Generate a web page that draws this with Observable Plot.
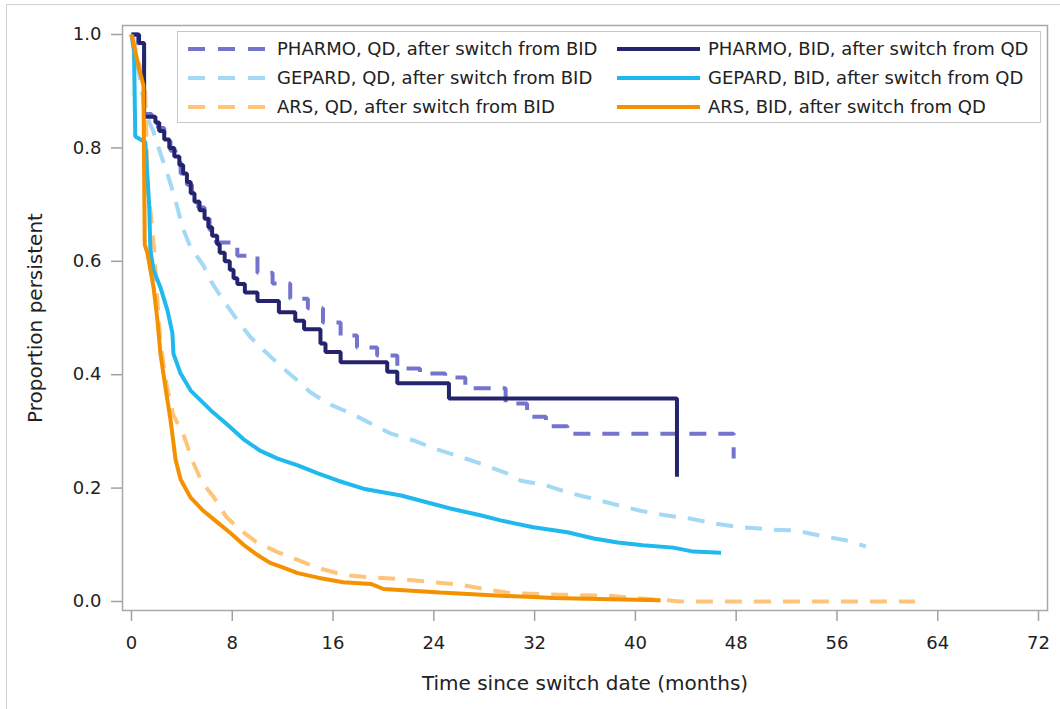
<!DOCTYPE html>
<html>
<head>
<meta charset="utf-8">
<script src="https://cdn.jsdelivr.net/npm/d3@7"></script>
<script src="https://cdn.jsdelivr.net/npm/@observablehq/plot@0.6"></script>
<style>
  html, body { margin: 0; padding: 0; background: #fff; }
  #wrap { position: relative; width: 1060px; height: 709px; overflow: hidden; font-family: "DejaVu Sans", sans-serif; }
  #border { position: absolute; left: 6px; top: 4px; width: 1200px; height: 900px;
            border-left: 1.5px solid #d2d2d2; border-top: 1.5px solid #d2d2d2; }
  #chart { position: absolute; left: 0; top: 0; }
  #legend { position: absolute; left: 177px; top: 31px; width: 864px; height: 92px;
            box-sizing: border-box; border: 1.5px solid #c8c8c8; background: #fff; }
  .item { position: absolute; height: 29px; display: flex; align-items: center; }
  .item svg { display: block; }
  .item span { font-size: 18px; color: #222; white-space: nowrap; }
</style>
</head>
<body>
<div id="wrap">
  <div id="border"></div>
  <div id="chart"></div>
  <div id="legend"></div>
</div>
<script>
// ---- Data (time in months, proportion persistent) ----
const xTicks = [0, 8, 16, 24, 32, 40, 48, 56, 64, 72];
const yTicks = [0, 0.2, 0.4, 0.6, 0.8, 1.0];
const xLabel = "Time since switch date (months)";
const yLabel = "Proportion persistent";

const seriesNames = [
  "PHARMO, QD, after switch from BID",
  "GEPARD, QD, after switch from BID",
  "ARS, QD, after switch from BID",
  "PHARMO, BID, after switch from QD",
  "GEPARD, BID, after switch from QD",
  "ARS, BID, after switch from QD"
];

// PHARMO series: few events, drawn as Kaplan-Meier steps
const pharmoQD = [[0,1.0],[0.5,0.98],[1.0,0.86],[1.6,0.85],[2.1,0.835],[2.6,0.815],[3.1,0.795],[3.5,0.775],[3.9,0.755],[4.4,0.735],[4.8,0.715],[5.3,0.695],[5.8,0.675],[6.2,0.655],[6.7,0.633],[8.4,0.61],[10.0,0.58],[11.2,0.561],[12.6,0.534],[14.0,0.517],[15.2,0.492],[16.6,0.469],[17.9,0.448],[19.5,0.434],[21.1,0.411],[22.9,0.402],[24.9,0.395],[26.5,0.376],[29.7,0.349],[31.4,0.326],[32.9,0.309],[34.6,0.296],[47.8,0.252]];

const pharmoBID = [[0,1.0],[0.6,0.985],[1.0,0.855],[1.9,0.845],[2.2,0.83],[2.6,0.815],[3.0,0.80],[3.4,0.785],[3.8,0.77],[4.1,0.755],[4.4,0.74],[4.7,0.72],[5.0,0.705],[5.4,0.69],[5.8,0.675],[6.1,0.66],[6.4,0.645],[6.8,0.63],[7.0,0.615],[7.4,0.60],[7.8,0.585],[8.1,0.57],[8.4,0.56],[9.0,0.545],[10.0,0.53],[11.7,0.51],[13.0,0.495],[13.7,0.48],[15.0,0.455],[15.4,0.44],[16.6,0.422],[20.3,0.405],[21.1,0.385],[25.2,0.358],[43.3,0.22]];

// GEPARD / ARS series: many events, read as dense curves
const gepardQD = [[0,1.0],[0.3,0.97],[0.6,0.93],[0.9,0.89],[1.0,0.866],[1.7,0.831],[2.3,0.79],[2.9,0.751],[3.5,0.707],[4.05,0.66],[4.7,0.624],[5.7,0.593],[6.3,0.565],[7.3,0.531],[8.4,0.496],[9.45,0.466],[10.5,0.443],[11.8,0.416],[12.9,0.395],[14.2,0.369],[15.6,0.349],[17.4,0.332],[19.0,0.314],[20.6,0.296],[22.4,0.284],[24.0,0.27],[26.0,0.256],[28.0,0.241],[29.8,0.226],[30.9,0.213],[32.9,0.205],[34.7,0.192],[36.5,0.182],[38.4,0.171],[40.4,0.16],[42.4,0.152],[44.4,0.146],[46.2,0.138],[48.3,0.131],[50.7,0.127],[52.8,0.125],[54.7,0.116],[56.7,0.108],[58.3,0.097]];

const gepardBID = [[0,1.0],[0.2,0.97],[0.3,0.82],[1.1,0.81],[1.4,0.70],[1.5,0.62],[1.75,0.584],[2.3,0.554],[2.86,0.513],[3.25,0.473],[3.33,0.437],[3.9,0.402],[4.7,0.372],[6.3,0.337],[7.6,0.312],[8.9,0.286],[10.2,0.266],[11.6,0.252],[13.2,0.24],[14.8,0.226],[16.4,0.213],[18.4,0.199],[21.4,0.187],[25.3,0.164],[27.7,0.152],[29.3,0.143],[31.9,0.131],[34.6,0.122],[36.7,0.111],[38.6,0.104],[40.6,0.099],[43.0,0.095],[44.6,0.088],[46.8,0.086]];

const arsQD = [[0,1.0],[0.4,0.97],[0.8,0.93],[1.1,0.9],[1.3,0.72],[1.5,0.69],[1.8,0.62],[2.0,0.55],[2.3,0.455],[2.8,0.38],[3.3,0.33],[4.2,0.29],[4.8,0.25],[5.6,0.21],[6.5,0.185],[7.5,0.15],[8.6,0.127],[9.9,0.105],[11.5,0.088],[13.0,0.075],[14.7,0.06],[16.8,0.047],[18.7,0.043],[21.0,0.04],[23.5,0.035],[26.0,0.03],[28.0,0.022],[30.0,0.015],[34.0,0.012],[38.0,0.01],[40.0,0.006],[42.0,0.003],[43.5,0.0],[62.2,0.0]];

const arsBID = [[0,1.0],[0.3,0.97],[0.6,0.94],[0.95,0.91],[1.05,0.63],[1.27,0.614],[1.75,0.554],[2.06,0.496],[2.3,0.437],[2.7,0.377],[3.1,0.32],[3.5,0.25],[3.9,0.215],[4.7,0.183],[5.7,0.16],[6.8,0.14],[7.9,0.12],[8.9,0.1],[10.0,0.082],[11.0,0.068],[12.0,0.06],[13.2,0.05],[14.8,0.042],[16.8,0.034],[19.0,0.031],[20.0,0.022],[24.5,0.016],[29.3,0.01],[31.9,0.008],[33.5,0.006],[38.0,0.004],[42.0,0.002]];

const seriesData = [pharmoQD, gepardQD, arsQD, pharmoBID, gepardBID, arsBID];

// ---- Styles ----
const colors = ["#7474cf", "#a3d9f5", "#fec57a", "#24246e", "#1fb9ee", "#f39100"];
const dashes = ["17,12", "17,12", "17,12", null, null, null];
const curves = ["step-after", "linear", "linear", "step-after", "linear", "linear"];
const lineW = 4;

const lineMarks = seriesData.map((data, i) =>
  Plot.line(data, {
    x: d => d[0], y: d => d[1], curve: curves[i],
    stroke: colors[i], strokeWidth: lineW,
    strokeDasharray: dashes[i] || undefined,
    strokeLinejoin: "miter", strokeLinecap: "butt"
  })
);

const chart = Plot.plot({
  width: 1060, height: 709,
  marginLeft: 122, marginRight: 13, marginTop: 25, marginBottom: 99,
  x: { domain: [-0.714, 72.714] },
  y: { domain: [-0.0159, 1.0159] },
  style: { fontFamily: "DejaVu Sans, sans-serif", background: "transparent", overflow: "visible" },
  marks: [
    ...lineMarks,
    Plot.frame({ stroke: "#a8a8a8", strokeWidth: 1.5 }),
    Plot.axisX({ ticks: xTicks, tickSize: 11, tickPadding: 15, stroke: "#a0a0a0", strokeWidth: 1.5, fill: "#222", fontSize: 18, label: null }),
    Plot.axisY({ ticks: yTicks, tickSize: 11, tickPadding: 10, tickFormat: d3.format(".1f"), stroke: "#a0a0a0", strokeWidth: 1.5, fill: "#222", fontSize: 18, label: null }),
    Plot.text([xLabel], { text: d => d, frameAnchor: "bottom", dy: 73, fontSize: 20, fill: "#222", lineAnchor: "middle", textAnchor: "middle" }),
    Plot.text([yLabel], { text: d => d, frameAnchor: "left", dx: -87, rotate: -90, fontSize: 20, fill: "#222", lineAnchor: "middle", textAnchor: "middle" })
  ]
});
document.getElementById("chart").appendChild(chart);

// ---- Legend ----
const legend = document.getElementById("legend");
const colLayout = [
  { swatchLeft: 10, swatchW: 77, textGap: 12 },
  { swatchLeft: 439, swatchW: 83, textGap: 8 }
];
seriesNames.forEach((name, i) => {
  const col = i < 3 ? 0 : 1, row = i % 3;
  const L = colLayout[col];
  const item = document.createElement("div");
  item.className = "item";
  item.style.left = L.swatchLeft + "px";
  item.style.top = (2 + row * 29) + "px";
  const ns = "http://www.w3.org/2000/svg";
  const svg = document.createElementNS(ns, "svg");
  svg.setAttribute("width", L.swatchW); svg.setAttribute("height", 10);
  const ln = document.createElementNS(ns, "line");
  ln.setAttribute("x1", 0); ln.setAttribute("x2", L.swatchW);
  ln.setAttribute("y1", 5); ln.setAttribute("y2", 5);
  ln.setAttribute("stroke", colors[i]); ln.setAttribute("stroke-width", lineW);
  if (dashes[i]) ln.setAttribute("stroke-dasharray", "17,13");
  svg.appendChild(ln);
  const sp = document.createElement("span");
  sp.textContent = name;
  sp.style.marginLeft = L.textGap + "px";
  item.appendChild(svg); item.appendChild(sp);
  legend.appendChild(item);
});
</script>
</body>
</html>
